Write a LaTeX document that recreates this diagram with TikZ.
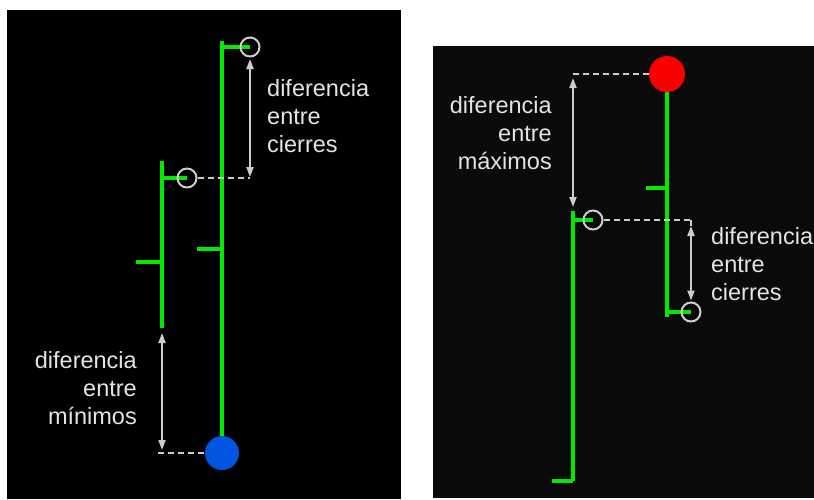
\documentclass[tikz,border=0pt]{standalone}
\usepackage{fontspec}
\setmainfont{Liberation Sans}
\usetikzlibrary{arrows.meta}
\definecolor{barg}{RGB}{0,235,0}
\definecolor{lgray}{RGB}{205,205,205}
\definecolor{txtgray}{RGB}{228,228,228}
\definecolor{bluept}{RGB}{0,85,225}
\definecolor{redpt}{RGB}{250,0,0}
\definecolor{panelR}{RGB}{10,10,10}
\begin{document}
\begin{tikzpicture}[x=1pt,y=-1pt,
  bar/.style={draw=barg,line width=3.2pt},
  ring/.style={circle,draw=lgray,line width=2pt,minimum size=19pt,inner sep=0pt},
  guide/.style={draw=lgray,line width=2pt,dash pattern=on 6pt off 4pt},
  corner/.style={draw=lgray,line width=2pt},
  dim/.style={draw=lgray,line width=2pt,{Triangle[width=7pt,length=10pt]}-{Triangle[width=7pt,length=10pt]}},
  lbl/.style={font=\fontsize{23.5}{28}\selectfont,text=txtgray,inner sep=0pt},
  dot/.style={circle,inner sep=0pt}]
\useasboundingbox (0,0) rectangle (814,499);
% panels
\fill[black] (7,10) rectangle (401,499);
\fill[panelR] (433,46) rectangle (814,498);

% ---------------- left panel ----------------
% bar A
\coordinate (aT) at (162,161);
\coordinate (aB) at (162,328);
\coordinate (aO) at (136,262);
\coordinate (aCc) at (187,178);
\draw[bar] (aT) -- (aB);
\draw[bar] (aO) -- (aO -| aT);
\draw[bar] (aCc -| aT) -- (aCc);
\node[ring] (aC) at (aCc) {};
% bar B
\coordinate (bT) at (222,41);
\coordinate (bB) at (222,453);
\coordinate (bO) at (197,249);
\coordinate (bCc) at (250,47);
\draw[bar] (bT) -- (bB);
\draw[bar] (bO) -- (bO -| bT);
\draw[bar] (bCc -| bT) -- (bCc);
\node[ring] (bC) at (bCc) {};
\node[dot,fill=bluept,minimum size=34pt] (bL) at (bB) {};
% guides
\coordinate (g1) at (aC -| bC);
\draw[guide] (aC.east) -- (g1);
\draw[dim] ([yshift=-1.5pt]bC.south) -- ([yshift=1pt]g1);
\coordinate (g2) at (158,453);
\draw[guide] (g2) -- (bL.west);
\draw[dim] ([yshift=-5pt]aB) -- ([yshift=3pt]aB |- bL);
% labels
\node[lbl,anchor=base west] (t1a) at (267,96) {diferencia};
\node[lbl,anchor=base west] (t1b) at (267,124) {entre};
\node[lbl,anchor=base west] (t1c) at (267,152) {cierres};
\node[lbl,anchor=base east] (t2a) at (137,368) {diferencia};
\node[lbl,anchor=base east] (t2b) at (137,396) {entre};
\node[lbl,anchor=base east] (t2c) at (137,424) {mínimos};

% ---------------- right panel ----------------
% bar C
\coordinate (cT) at (573,211);
\coordinate (cB) at (573,481);
\coordinate (cO) at (552,481);
\coordinate (cCc) at (593,220);
\draw[bar] (cT) -- (cB);
\draw[bar] (cO) -- (cB);
\draw[bar] (cCc -| cT) -- (cCc);
\node[ring] (cC) at (cCc) {};
% bar D
\coordinate (dT) at (667,74);
\coordinate (dB) at (667,317);
\coordinate (dO) at (646,188);
\coordinate (dCc) at (691,312);
\draw[bar] (dT) -- (dB);
\draw[bar] (dO) -- (dO -| dT);
\draw[bar] (dCc -| dT) -- (dCc);
\node[ring] (dC) at (dCc) {};
\node[dot,fill=redpt,minimum size=36pt] (dH) at (dT) {};
% guides
\coordinate (g3) at (cT |- dH);
\draw[guide] (dH.west) -- (g3);
\draw[dim] ([yshift=-4pt]g3) -- ([yshift=4pt]cT);
\coordinate (g4) at (cC -| dC);
\draw[guide] (cC.east) -- (g4);
\draw[corner] (g4) -- ([yshift=-6pt]g4);
\draw[dim] ([yshift=-6pt]g4) -- ([yshift=1pt]dC.north);
% labels
\node[lbl,anchor=base east] (t3a) at (552,113) {diferencia};
\node[lbl,anchor=base east] (t3b) at (552,141) {entre};
\node[lbl,anchor=base east] (t3c) at (552,169) {máximos};
\node[lbl,anchor=base west] (t4a) at (711,244) {diferencia};
\node[lbl,anchor=base west] (t4b) at (711,272) {entre};
\node[lbl,anchor=base west] (t4c) at (711,300) {cierres};
\end{tikzpicture}
\end{document}
